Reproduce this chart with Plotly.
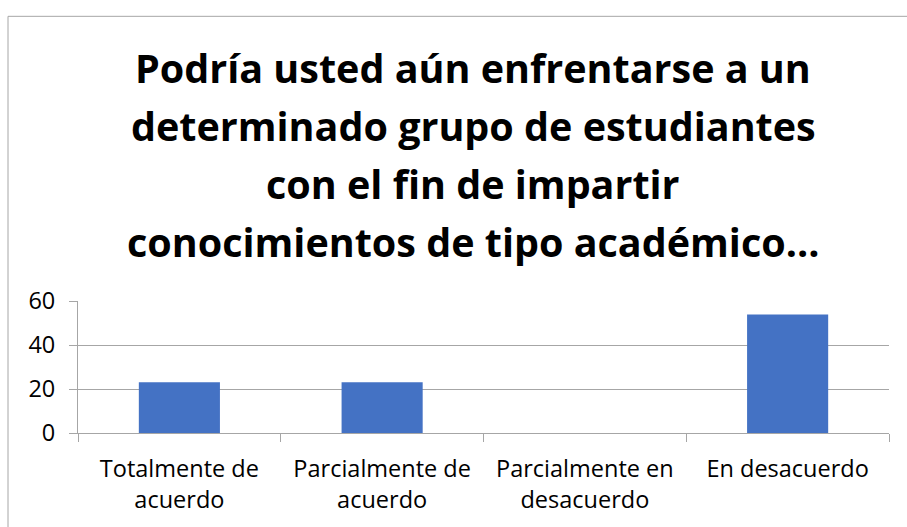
import plotly.graph_objects as go

categories = ["Totalmente de<br>acuerdo", "Parcialmente de<br>acuerdo",
              "Parcialmente en<br>desacuerdo", "En desacuerdo"]
values = [23.08, 23.08, 0, 53.85]
title_lines = ["Podría usted aún enfrentarse a un",
               "determinado grupo de estudiantes",
               "con el fin de impartir",
               "conocimientos de tipo académico…"]

W, H = 907, 527
L, R, T, B = 78, 18, 301, 92
PW, PH = W - L - R, H - T - B

def px(x):
    return (x - L) / PW

def py(y):
    return (H - B - y) / PH

GRAY = "#a6a6a6"
FONT = "Open Sans"
TICK_SIZE = 23.5

fig = go.Figure(go.Bar(x=categories, y=values, marker=dict(color="#4472C4", line=dict(width=0)),
                       hoverinfo="skip"))

baselines = [77, 136, 195, 254]
annotations = []
for line, base in zip(title_lines, baselines):
    annotations.append(dict(text=f"<b>{line}</b>", xref="paper", yref="paper",
                            x=px(473), y=py(base - 13), xanchor="center", yanchor="middle",
                            showarrow=False, font=dict(family=FONT, size=39.5, color="black")))

fig.update_layout(
    width=W, height=H,
    margin=dict(l=L, r=R, t=T, b=B),
    paper_bgcolor="white", plot_bgcolor="white",
    showlegend=False,
    bargap=0.6,
    annotations=annotations,
    shapes=[dict(type="rect", xref="paper", yref="paper",
                 x0=px(8), x1=px(1100), y0=py(800), y1=py(12),
                 line=dict(color=GRAY, width=1), fillcolor="rgba(0,0,0,0)", layer="below")],
    font=dict(family=FONT, size=TICK_SIZE, color="black"),
)
fig.update_xaxes(type="category", tickson="boundaries", ticks="outside", ticklen=8,
                 tickcolor=GRAY, showline=True, linecolor=GRAY, linewidth=1,
                 showgrid=False, tickfont=dict(family=FONT, size=TICK_SIZE, color="black"),
                 ticklabelstandoff=15)
fig.update_yaxes(range=[0, 60], dtick=20, tick0=0, ticks="outside", ticklen=8,
                 tickcolor=GRAY, showline=True, linecolor=GRAY, linewidth=1,
                 showgrid=True, gridcolor=GRAY, gridwidth=1, zeroline=False,
                 tickfont=dict(family=FONT, size=TICK_SIZE, color="black"),
                 ticklabelstandoff=9)

fig.write_html("out.html", config={"displayModeBar": False},
               post_script="document.body.style.margin='0';document.body.style.overflow='hidden';")
